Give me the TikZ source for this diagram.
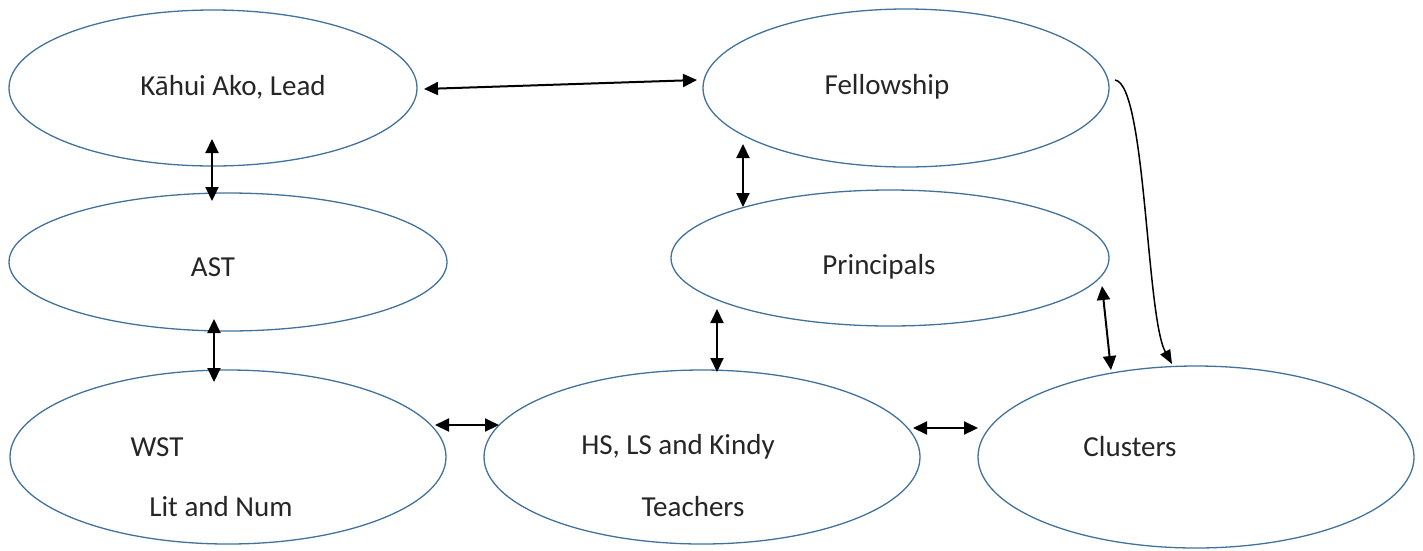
\documentclass[tikz,border=0pt]{standalone}
\usepackage{fontspec}
\setmainfont{Carlito}
\usetikzlibrary{shapes.geometric,arrows.meta,calc}
\definecolor{ringblue}{HTML}{41719C}
\definecolor{txt}{HTML}{262626}
\begin{document}
\begin{tikzpicture}[x=1pt,y=-1pt,
  ring/.style={draw=ringblue,line width=1.3pt,ellipse,inner sep=0pt},
  lbl/.style={text=txt,font=\fontsize{29}{33}\selectfont,inner sep=0pt},
  link/.style={line width=2pt,{Triangle[length=14pt,width=13pt]}-{Triangle[length=14pt,width=13pt]}},
  flow/.style={line width=1.5pt,-{Triangle[length=14pt,width=11pt]}}]
\useasboundingbox (0,0) rectangle (1423,550);
% ellipses
\node[ring,minimum width=408pt,minimum height=156pt] (kahui) at (213,88) {};
\node[ring,minimum width=406pt,minimum height=158pt] (fell) at (906,88) {};
\node[ring,minimum width=438pt,minimum height=138pt] (ast) at (228,262) {};
\node[ring,minimum width=438pt,minimum height=136pt] (prin) at (890,258) {};
\node[ring,minimum width=436pt,minimum height=174pt] (wst) at (228,457) {};
\node[ring,minimum width=436pt,minimum height=174pt] (hs) at (702,457) {};
\node[ring,minimum width=436pt,minimum height=182pt] (clu) at (1196,457) {};
% texts
\node[lbl] (t1) at (233,87) {Kāhui Ako, Lead};
\node[lbl] (t2) at (887,87) {Fellowship};
\node[lbl] (t3) at (213,267) {AST};
\node[lbl] (t4) at (879,267) {Principals};
\node[lbl] (t5) at (157,447) {WST};
\node[lbl] (t6) at (221,507) {Lit and Num};
\node[lbl] (t7) at (678,447) {HS, LS and Kindy};
\node[lbl] (t8) at (693,507) {Teachers};
\node[lbl] (t9) at (1130,447) {Clusters};
% connectors
\draw[link] ($(kahui)+(211,1)$) -- ($(fell)+(-209,-8)$);
\draw[link] ($(kahui)+(-1,51)$) -- ($(ast)+(-16,-61)$);
\draw[link] ($(ast)+(-14,57)$) -- ($(wst)+(-14,-75)$);
\draw[link] ($(wst)+(207,-32)$) -- ($(hs)+(-203,-32)$);
\draw[link] ($(hs)+(211,-29)$) -- ($(clu)+(-218,-29)$);
\draw[link] ($(fell)+(-163,56)$) -- ($(prin)+(-147,-51)$);
\draw[link] ($(prin)+(-173,51)$) -- ($(hs)+(15,-85)$);
\draw[link] ($(prin)+(212,28)$) -- ($(clu)+(-85,-87)$);
\draw[flow] ($(fell)+(209,-8)$) .. controls ($(fell)+(240,-4)$) and ($(clu)+(-50,-140)$) .. ($(clu)+(-24,-93)$);
\end{tikzpicture}
\end{document}
